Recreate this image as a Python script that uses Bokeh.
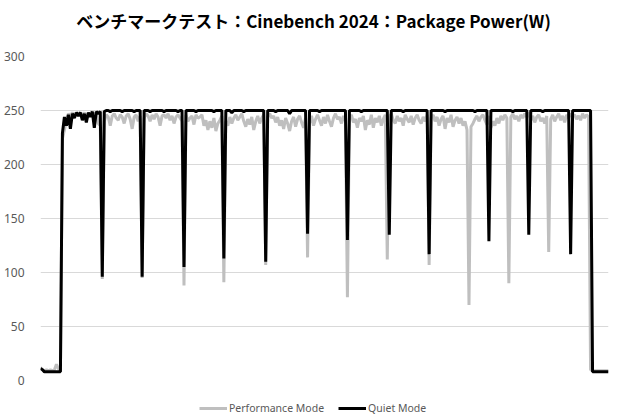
from bokeh.plotting import figure
from bokeh.models import Range1d, FixedTicker, Legend, LegendItem, Label
from bokeh.layouts import column
from bokeh.embed import file_html
from bokeh.resources import INLINE

# Package power samples (W), one sample per time step
performance_mode = [
    12, 10, 9, 10, 9, 10, 9, 10, 15, 11,
    9, 224, 232, 241, 247, 245, 248, 246, 248, 247,
    248, 246, 248, 244, 247, 246, 249, 245, 248, 238,
    236, 94, 240, 246, 244, 236, 245, 247, 243, 241,
    246, 244, 238, 245, 247, 242, 233, 244, 246, 240,
    245, 95, 243, 247, 245, 240, 246, 242, 247, 244,
    236, 245, 246, 243, 247, 241, 245, 238, 244, 246,
    243, 240, 88, 246, 240, 243, 245, 237, 246, 243,
    244, 246, 236, 241, 232, 240, 234, 243, 231, 238,
    241, 245, 91, 240, 236, 244, 238, 243, 246, 241,
    244, 247, 240, 235, 242, 237, 244, 232, 240, 245,
    238, 243, 246, 107, 244, 247, 243, 245, 239, 244,
    236, 241, 233, 243, 238, 231, 240, 244, 235, 242,
    245, 239, 234, 243, 114, 238, 245, 236, 242, 246,
    241, 236, 244, 238, 246, 240, 235, 243, 247, 242,
    244, 238, 245, 240, 77, 243, 246, 239, 242, 234,
    243, 240, 245, 232, 241, 237, 246, 234, 243, 239,
    245, 236, 242, 246, 112, 244, 247, 241, 238, 245,
    240, 243, 236, 246, 242, 239, 245, 237, 243, 246,
    241, 238, 244, 240, 246, 107, 243, 246, 240, 244,
    236, 242, 245, 233, 243, 239, 246, 235, 241, 244,
    238, 243, 236, 240, 232, 70, 235, 238, 242, 245,
    240, 244, 246, 241, 237, 245, 234, 240, 236, 243,
    238, 245, 241, 246, 243, 90, 244, 247, 242, 245,
    240, 246, 243, 247, 244, 248, 241, 245, 239, 244,
    246, 240, 243, 238, 245, 119, 242, 246, 240, 244,
    247, 241, 245, 239, 246, 243, 247, 244, 246, 242,
    245, 241, 247, 243, 246, 244, 10, 9, 9, 9,
    9, 9, 9, 9, 9, 9,
]

quiet_mode = [
    11, 10, 8, 8, 8, 8, 8, 8, 8, 8,
    8, 229, 244, 236, 246, 233, 247, 243, 248, 245,
    248, 241, 247, 239, 248, 244, 249, 234, 249, 247,
    249, 96, 249, 250, 250, 249, 250, 250, 250, 250,
    250, 249, 250, 250, 250, 250, 250, 249, 250, 250,
    250, 96, 250, 250, 250, 249, 250, 250, 250, 250,
    250, 250, 249, 250, 250, 250, 250, 250, 250, 249,
    250, 250, 105, 250, 250, 250, 250, 250, 249, 250,
    250, 250, 250, 250, 250, 250, 250, 249, 250, 250,
    250, 250, 113, 250, 250, 250, 248, 250, 250, 250,
    250, 250, 249, 250, 250, 250, 250, 250, 250, 250,
    250, 250, 250, 110, 250, 250, 250, 250, 249, 250,
    250, 250, 250, 250, 250, 247, 250, 250, 250, 250,
    250, 250, 250, 250, 136, 250, 250, 250, 250, 250,
    249, 250, 250, 250, 250, 250, 250, 250, 250, 250,
    250, 250, 250, 250, 130, 250, 250, 250, 250, 250,
    250, 249, 250, 250, 250, 250, 250, 250, 250, 250,
    250, 250, 250, 250, 250, 135, 250, 250, 250, 250,
    250, 250, 249, 250, 250, 250, 250, 250, 250, 250,
    250, 250, 250, 250, 250, 117, 250, 250, 250, 250,
    250, 250, 250, 249, 250, 250, 250, 250, 250, 250,
    250, 250, 250, 250, 250, 250, 250, 250, 249, 250,
    250, 250, 250, 250, 250, 129, 250, 250, 250, 250,
    250, 250, 250, 250, 250, 250, 250, 249, 250, 250,
    250, 250, 250, 250, 250, 135, 250, 250, 250, 250,
    250, 250, 249, 250, 250, 250, 250, 250, 250, 250,
    250, 250, 250, 250, 250, 250, 117, 250, 250, 250,
    250, 250, 250, 250, 250, 250, 250, 8, 8, 8,
    8, 8, 8, 8, 8, 8,
]

y_ticks = [0, 50, 100, 150, 200, 250, 300]
series_names = ["Performance Mode", "Quiet Mode"]
series_colors = ["#bfbfbf", "#000000"]
title_text = "ベンチマークテスト：Cinebench 2024：Package Power(W)"

t = list(range(len(quiet_mode)))
series = [performance_mode, quiet_mode]


def strip(height):
    f = figure(width=620, height=height, output_backend="svg", toolbar_location=None,
               x_range=Range1d(0, len(t) - 1), y_range=Range1d(1000, 1001),
               min_border=0)
    f.axis.visible = False
    f.grid.visible = False
    f.outline_line_color = None
    return f


# ---- title strip (frame is aligned with the chart frame, which starts 37px in) ----
tt = strip(40)
tt.add_layout(Label(x=273, y=20, x_units="screen", y_units="screen", text=title_text,
                    text_align="center", text_baseline="middle",
                    text_font="Noto Sans CJK JP", text_font_size="17px",
                    text_font_style="bold", text_color="#000000"))

# ---- main chart ----
p = figure(width=620, height=352, output_backend="svg", toolbar_location=None,
           x_range=Range1d(0, len(t) - 1), y_range=Range1d(0, 300),
           min_border_left=37, min_border_right=12, min_border_top=16,
           min_border_bottom=12)
p.outline_line_color = None
p.border_fill_color = "white"
p.xaxis.visible = False
p.xgrid.visible = False
p.ygrid.grid_line_color = "#d9d9d9"
p.ygrid.grid_line_width = 1
p.yaxis.ticker = FixedTicker(ticks=y_ticks)
p.yaxis.axis_line_color = None
p.yaxis.major_tick_line_color = None
p.yaxis.minor_tick_line_color = None
p.yaxis.major_label_standoff = 10
p.yaxis.major_label_text_font = "Noto Sans"
p.yaxis.major_label_text_font_size = "12px"
p.yaxis.major_label_text_color = "#595959"

for vals, col in zip(series, series_colors):
    p.line(t, vals, line_color=col, line_width=3)

# ---- legend strip (same series drawn off-range, only their legend shows) ----
lg = strip(28)
items = []
for name, vals, col in zip(series_names, series, series_colors):
    r = lg.line(t, vals, line_color=col, line_width=3)
    items.append(LegendItem(label=name, renderers=[r]))
legend = Legend(items=items, orientation="horizontal", location=(159, 5),
                label_text_font="Noto Sans", label_text_font_size="10.5px",
                label_text_color="#595959", glyph_width=28, glyph_height=12,
                label_height=14, label_standoff=2, spacing=14, padding=2, margin=0,
                border_line_color=None, background_fill_alpha=0)
lg.add_layout(legend, "center")

layout = column(tt, p, lg, spacing=0)
open("out.html", "w").write(file_html(layout, INLINE))
